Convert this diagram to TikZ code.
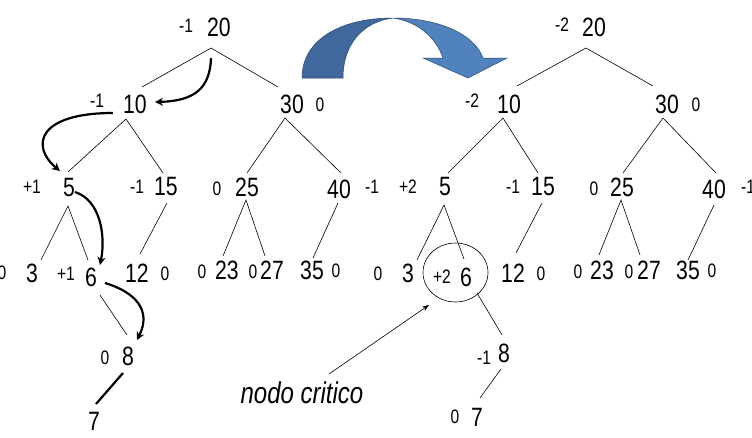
\documentclass[tikz,border=0pt]{standalone}
\usepackage{fontspec}
\setmainfont{Liberation Sans}[FakeStretch=0.8]
\usetikzlibrary{arrows.meta,shapes.geometric}
\definecolor{bluedark}{RGB}{65,104,156}
\definecolor{bluelight}{RGB}{80,130,190}
\definecolor{blueline}{RGB}{40,70,115}
\begin{document}
\begin{tikzpicture}[x=1pt,y=-1pt,
  num/.style={font=\fontsize{26.5}{28}\selectfont, inner sep=0pt},
  bal/.style={font=\fontsize{19.5}{21}\selectfont, inner sep=0pt},
  edge/.style={line width=0.6pt},
  walk/.style={line width=2.2pt, -{Stealth[length=8pt,width=8pt]}},
  thickedge/.style={line width=2.2pt}]
\useasboundingbox (0,0) rectangle (752,437);

% ---------- left tree ----------
\node[num] (L20) at (219,27) {20}; \node[bal] (bL20) at (186,26) {-1};
\node[num] (L10) at (135,104) {10}; \node[bal] (bL10) at (97,101) {-1};
\node[num] (L30) at (292,104) {30}; \node[bal] (bL30) at (320,105) {0};
\node[num] (L5) at (69,188) {5}; \node[bal] (bL5) at (32,187) {+1};
\node[num] (L15) at (166,187) {15}; \node[bal] (bL15) at (137,187) {-1};
\node[num] (L25) at (247,187) {25}; \node[bal] (bL25) at (217,189) {0};
\node[num] (L40) at (339,189) {40}; \node[bal] (bL40) at (372,187) {-1};
\node[num] (L3) at (32,273) {3}; \node[bal] (bL3) at (2,273) {0};
\node[num] (L6) at (91,277) {6}; \node[bal] (bL6) at (66,274) {+1};
\node[num] (L12) at (137,273) {12}; \node[bal] (bL12) at (165,274) {0};
\node[num] (L23) at (227,270) {23}; \node[bal] (bL23) at (202,272) {0};
\node[num] (L27) at (272,270) {27}; \node[bal] (bL27) at (253,272) {0};
\node[num] (L35) at (312,270) {35}; \node[bal] (bL35) at (336,271) {0};
\node[num] (L8) at (128,356) {8}; \node[bal] (bL8) at (105,358) {0};
\node[num] (L7) at (94,421) {7};

\coordinate (la20) at (211,48); \coordinate (la10t) at (142,87); \coordinate (la30t) at (278,87);
\coordinate (la10) at (126,119); \coordinate (la5t) at (68,172); \coordinate (la15t) at (163,173);
\coordinate (la30) at (285,118); \coordinate (la25t) at (247,173); \coordinate (la40t) at (341,173);
\coordinate (la5) at (68,206); \coordinate (la3t) at (41,260); \coordinate (la6t) at (88,260);
\coordinate (la15) at (167,203); \coordinate (la12t) at (140,254);
\coordinate (la25) at (246,200); \coordinate (la23t) at (223,256); \coordinate (la27t) at (265,256);
\coordinate (la40) at (338,203); \coordinate (la35t) at (313,258);
\coordinate (la6) at (100,295); \coordinate (la8t) at (127,335);
\coordinate (la8) at (123,373); \coordinate (la7t) at (96,404);

\draw[edge] (la10t) -- (la20) -- (la30t);
\draw[edge] (la5t) -- (la10) -- (la15t);
\draw[edge] (la25t) -- (la30) -- (la40t);
\draw[edge] (la3t) -- (la5) -- (la6t);
\draw[edge] (la15) -- (la12t);
\draw[edge] (la23t) -- (la25) -- (la27t);
\draw[edge] (la40) -- (la35t);
\draw[edge] (la6) -- (la8t);
\draw[thickedge] (la8) -- (la7t);

% walk arrows
\coordinate (w1s) at (211,58); \coordinate (w1e) at (155,102);
\coordinate (w2s) at (113,113); \coordinate (w2e) at (60,171);
\coordinate (w3s) at (75,192); \coordinate (w3e) at (100,265);
\coordinate (w4s) at (105,283); \coordinate (w4e) at (137,340);
\draw[walk] (w1s) .. controls (210,88) and (195,101) .. (w1e);
\draw[walk] (w2s) .. controls (38,113) and (30,146) .. (w2e);
\draw[walk] (w3s) .. controls (100,200) and (106,235) .. (w3e);
\draw[walk] (w4s) .. controls (135,292) and (152,310) .. (w4e);

% ---------- big curved arrow ----------
\filldraw[fill=bluedark, draw=blueline, line width=0.5pt]
  (302,78) .. controls (302,40) and (340,18) .. (393,18)
  .. controls (362,22) and (343,45) .. (343,78) -- cycle;
\filldraw[fill=bluelight, draw=blueline, line width=0.5pt]
  (393,18) .. controls (440,18) and (475,35) .. (483,58)
  -- (507,58) -- (468,78) -- (423,58) -- (443,58)
  .. controls (435,35) and (415,21) .. (393,18) -- cycle;

% ---------- right tree ----------
\node[num] (R20) at (594,27) {20}; \node[bal] (bR20) at (562,25) {-2};
\node[num] (R10) at (509,104) {10}; \node[bal] (bR10) at (472,101) {-2};
\node[num] (R30) at (667,104) {30}; \node[bal] (bR30) at (696,105) {0};
\node[num] (R5) at (445,187) {5}; \node[bal] (bR5) at (408,187) {+2};
\node[num] (R15) at (543,187) {15}; \node[bal] (bR15) at (513,187) {-1};
\node[num] (R25) at (622,187) {25}; \node[bal] (bR25) at (594,189) {0};
\node[num] (R40) at (714,189) {40}; \node[bal] (bR40) at (748,187) {-1};
\node[num] (R3) at (408,273) {3}; \node[bal] (bR3) at (378,274) {0};
\node[num] (R6) at (466,277) {6}; \node[bal] (bR6) at (442,277) {+2};
\node[num] (R12) at (513,273) {12}; \node[bal] (bR12) at (541,274) {0};
\node[num] (R23) at (602,270) {23}; \node[bal] (bR23) at (578,272) {0};
\node[num] (R27) at (649,270) {27}; \node[bal] (bR27) at (629,272) {0};
\node[num] (R35) at (688,270) {35}; \node[bal] (bR35) at (712,271) {0};
\node[num] (R8) at (504,353) {8}; \node[bal] (bR8) at (484,358) {-1};
\node[num] (R7) at (477,417) {7}; \node[bal] (bR7) at (455,417) {0};

\node[draw, ellipse, line width=0.6pt, minimum width=65pt, minimum height=59pt, inner sep=0pt] (crit) at (455.5,272.5) {};

\coordinate (ra20) at (586,48); \coordinate (ra10t) at (517,86); \coordinate (ra30t) at (653,86);
\coordinate (ra10) at (503,118); \coordinate (ra5t) at (448,173); \coordinate (ra15t) at (538,173);
\coordinate (ra30) at (663,118); \coordinate (ra25t) at (623,173); \coordinate (ra40t) at (716,173);
\coordinate (ra5) at (444,205); \coordinate (ra3t) at (417,260); \coordinate (ra6t) at (464,259);
\coordinate (ra15) at (542,203); \coordinate (ra12t) at (516,253);
\coordinate (ra25) at (621,200); \coordinate (ra23t) at (599,255); \coordinate (ra27t) at (640,255);
\coordinate (ra40) at (714,205); \coordinate (ra35t) at (688,260);
\coordinate (ra6) at (477,293); \coordinate (ra8t) at (502,335);
\coordinate (ra8) at (501,369); \coordinate (ra7t) at (480,398);

\draw[edge] (ra10t) -- (ra20) -- (ra30t);
\draw[edge] (ra5t) -- (ra10) -- (ra15t);
\draw[edge] (ra25t) -- (ra30) -- (ra40t);
\draw[edge] (ra3t) -- (ra5) -- (ra6t);
\draw[edge] (ra15) -- (ra12t);
\draw[edge] (ra23t) -- (ra25) -- (ra27t);
\draw[edge] (ra40) -- (ra35t);
\draw[edge] (ra6) -- (ra8t);
\draw[edge] (ra8) -- (ra7t);

% ---------- label ----------
\node[font=\fontsize{30}{32}\selectfont\itshape, inner sep=0pt] (nc) at (302,393) {nodo critico};
\coordinate (ncs) at (329,374); \coordinate (nce) at (429,305);
\draw[edge, -{Stealth[length=7pt,width=5pt]}] (ncs) -- (nce);
\end{tikzpicture}
\end{document}
